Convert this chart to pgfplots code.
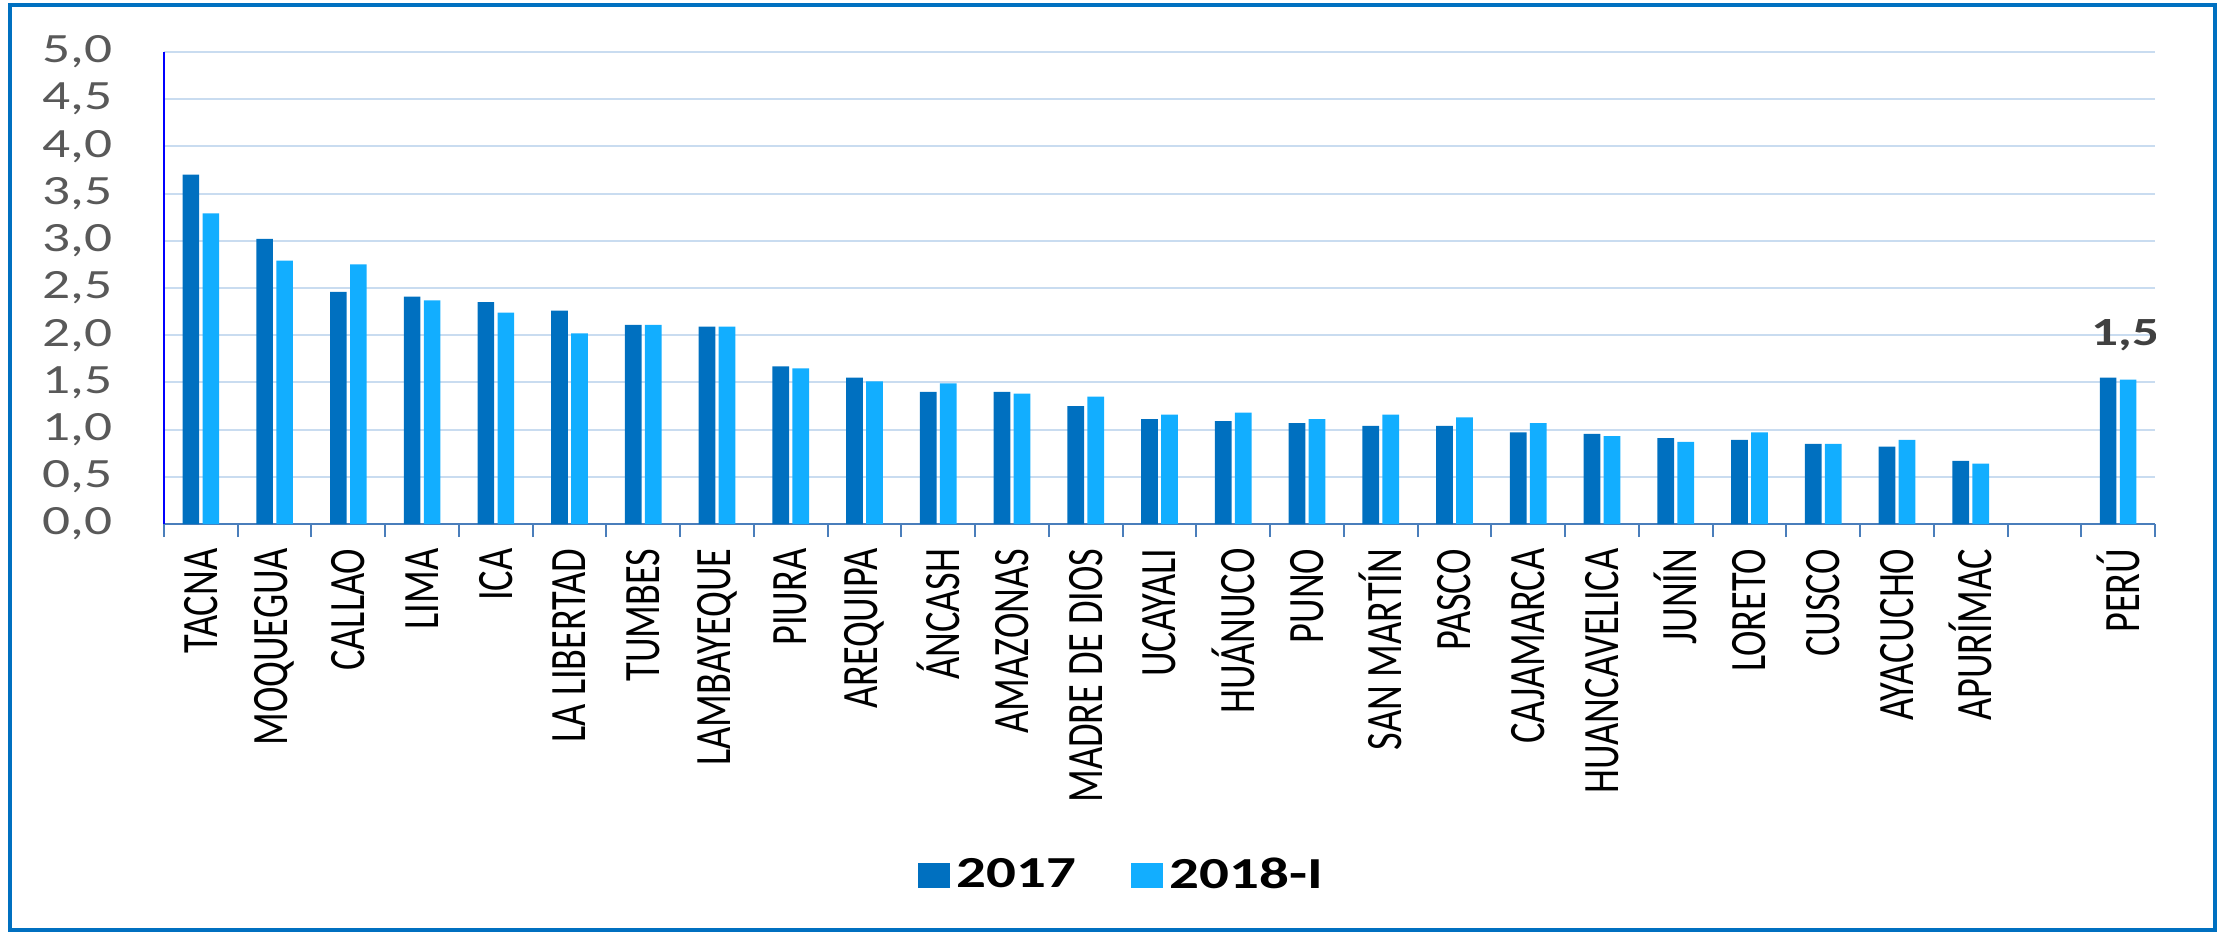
\documentclass[border=0pt]{standalone}
\usepackage{fontspec}
\setmainfont{Carlito}
\usepackage{graphicx}
\usepackage{pgfplots}
\pgfplotsset{compat=1.18}

\definecolor{c17}{HTML}{0070C0}
\definecolor{c18}{HTML}{12AEFF}
\definecolor{gridc}{HTML}{C9DCF0}
\definecolor{framec}{HTML}{0070C0}
\definecolor{xaxisc}{HTML}{4A7EBB}
\definecolor{ticktext}{HTML}{595959}
% the reference is stretched sideways, so glyphs are widened to match
\newcommand{\sy}[1]{\scalebox{1}[1.33]{#1}}
\newcommand{\sx}[1]{\scalebox{1.33}[1]{#1}}

\begin{document}
\begin{tikzpicture}
\begin{axis}[
  at={(0,0)}, anchor=south west,
  width=597.3pt, height=141.6pt, scale only axis,
  xmin=-0.5, xmax=26.5, ymin=0, ymax=5,
  ybar, bar width=5pt,
  axis x line*=bottom, axis y line*=left,
  x axis line style={draw=xaxisc, line width=0.75pt},
  y axis line style={draw=blue, line width=0.5pt},
  ytick={0,0.5,1,1.5,2,2.5,3,3.5,4,4.5,5},
  ymajorgrids, grid style={draw=gridc, line width=0.6pt},
  xtick={0,1,2,3,4,5,6,7,8,9,10,11,12,13,14,15,16,17,18,19,20,21,22,23,24,26},
  xticklabels={\sy{TACNA},\sy{MOQUEGUA},\sy{CALLAO},\sy{LIMA},\sy{ICA},\sy{LA LIBERTAD},
    \sy{TUMBES},\sy{LAMBAYEQUE},\sy{PIURA},\sy{AREQUIPA},\sy{ÁNCASH},\sy{AMAZONAS},
    \sy{MADRE DE DIOS},\sy{UCAYALI},\sy{HUÁNUCO},\sy{PUNO},\sy{SAN MARTÍN},\sy{PASCO},
    \sy{CAJAMARCA},\sy{HUANCAVELICA},\sy{JUNÍN},\sy{LORETO},\sy{CUSCO},\sy{AYACUCHO},
    \sy{APURÍMAC},\sy{PERÚ}},
  minor xtick={-0.5,0.5,...,26.5},
  tick align=outside, major tick length=0pt, minor tick length=3.9pt,
  minor tick style={draw=xaxisc, line width=0.6pt},
  xticklabel style={rotate=90, anchor=east, inner sep=0pt,
    font=\fontsize{11.5}{12}\selectfont, text=black},
  xticklabel shift=7.2pt,
  yticklabel style={anchor=east, inner sep=0pt,
    font=\fontsize{12.5}{13}\selectfont, text=ticktext},
  yticklabel shift=15.3pt,
  yticklabel={\sx{\pgfmathprintnumber{\tick}}},
  /pgf/number format/.cd, use comma, fixed, fixed zerofill, precision=1,
    assume math mode=true,
  /pgfplots/.cd,
  legend style={at={(0.482,-0.745)}, anchor=center, draw=none, fill=none,
    legend columns=2, font=\bfseries\fontsize{13.3}{14}\selectfont,
    /tikz/every even column/.append style={column sep=14.4pt}},
  legend image code/.code={\fill[#1] (0pt,-3.75pt) rectangle (9.6pt,3.75pt);},
]
\addplot[fill=c17, draw=none, bar shift=-3pt] coordinates {
  (0,3.70) (1,3.02) (2,2.46) (3,2.41) (4,2.35) (5,2.26) (6,2.11) (7,2.09)
  (8,1.67) (9,1.55) (10,1.40) (11,1.40) (12,1.25) (13,1.11) (14,1.09) (15,1.07)
  (16,1.04) (17,1.04) (18,0.97) (19,0.955) (20,0.91) (21,0.89) (22,0.85) (23,0.82)
  (24,0.67) (26,1.55)};
\addlegendentry{\sx{2017}}
\addplot[fill=c18, draw=none, bar shift=3pt] coordinates {
  (0,3.29) (1,2.79) (2,2.75) (3,2.37) (4,2.24) (5,2.02) (6,2.11) (7,2.09)
  (8,1.65) (9,1.51) (10,1.49) (11,1.38) (12,1.35) (13,1.16) (14,1.18) (15,1.11)
  (16,1.16) (17,1.13) (18,1.07) (19,0.93) (20,0.87) (21,0.97) (22,0.85) (23,0.89)
  (24,0.64) (26,1.53)};
\addlegendentry{\sx{2018-I}}
\node[font=\bfseries\fontsize{12}{13}\selectfont, text=black!75, anchor=center]
  at (axis cs:26.1,2.0) {\sx{1,5}};
\end{axis}
\draw[framec, line width=1.3pt] (-46.2pt,-121.8pt) rectangle (615.3pt,155.7pt);
\pgfresetboundingbox
\path[use as bounding box] (-49.2pt,-124.2pt) rectangle (617.1pt,157.2pt);
\end{tikzpicture}
\end{document}
